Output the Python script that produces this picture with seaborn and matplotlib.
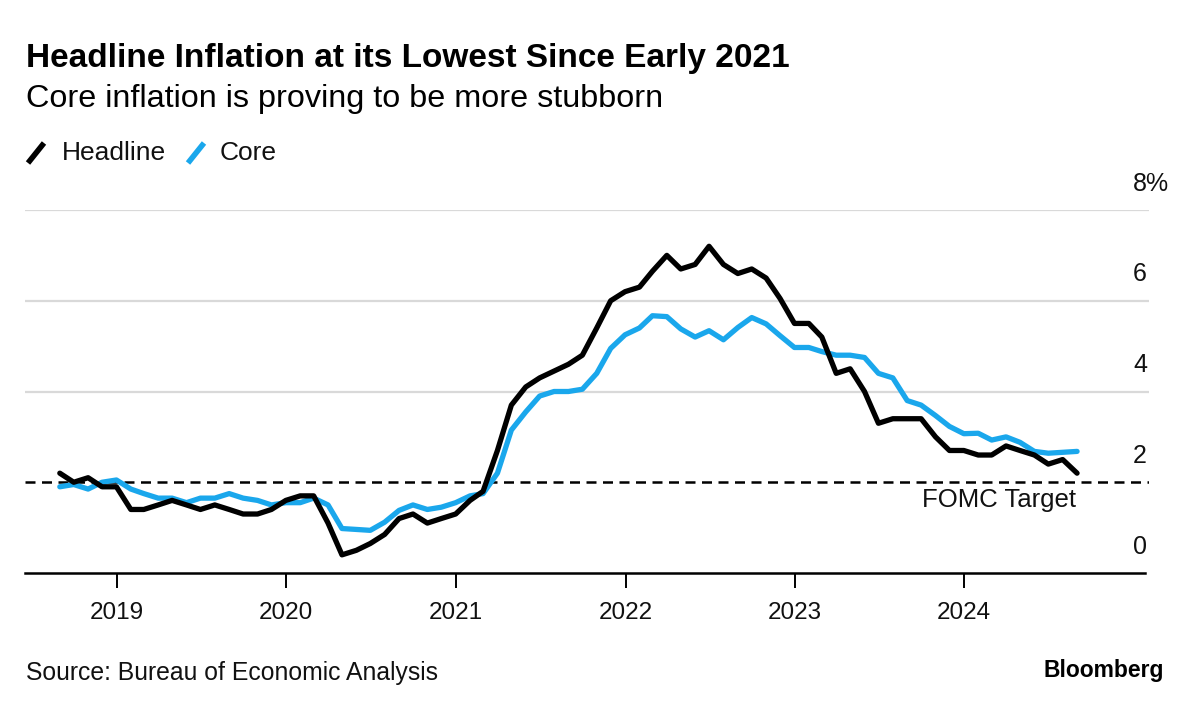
import numpy as np
import pandas as pd
import matplotlib
matplotlib.use("Agg")
import matplotlib.pyplot as plt
import matplotlib.dates as mdates
from matplotlib.lines import Line2D
import seaborn as sns

# ---- data (YoY %, Aug 2018 .. Aug 2024, monthly) ----
headline = [2.2, 2.0, 2.1, 1.9, 1.9,
            1.4, 1.4, 1.5, 1.6, 1.5, 1.4, 1.5, 1.4, 1.3, 1.3, 1.4, 1.6,
            1.7, 1.7, 1.1, 0.4, 0.5, 0.65, 0.85, 1.2, 1.3, 1.1, 1.2, 1.3,
            1.6, 1.8, 2.7, 3.7, 4.1, 4.3, 4.45, 4.6, 4.8, 5.4, 6.0, 6.2,
            6.3, 6.65, 7.0, 6.7, 6.8, 7.2, 6.8, 6.6, 6.7, 6.5, 6.05, 5.5,
            5.5, 5.2, 4.4, 4.5, 4.0, 3.3, 3.4, 3.4, 3.4, 3.0, 2.7, 2.7,
            2.6, 2.6, 2.8, 2.7, 2.6, 2.4, 2.5, 2.2]
core = [1.9, 1.95, 1.85, 2.0, 2.05,
        1.85, 1.75, 1.65, 1.65, 1.55, 1.65, 1.65, 1.75, 1.65, 1.6, 1.5, 1.55,
        1.55, 1.65, 1.5, 0.98, 0.96, 0.94, 1.12, 1.38, 1.5, 1.4, 1.45, 1.55,
        1.7, 1.75, 2.2, 3.15, 3.55, 3.9, 4.0, 4.0, 4.05, 4.4, 4.95, 5.25,
        5.4, 5.67, 5.65, 5.38, 5.2, 5.34, 5.14, 5.41, 5.63, 5.49, 5.23, 4.97,
        4.97, 4.88, 4.8, 4.8, 4.75, 4.4, 4.3, 3.8, 3.7, 3.47, 3.23, 3.07,
        3.08, 2.93, 3.0, 2.88, 2.68, 2.64, 2.66, 2.68]
dates = pd.date_range(start="2018-08-31", periods=len(headline), freq="ME")
series_names = ["Headline", "Core"]
series_colors = ["#000000", "#1AA7EC"]
fomc_target = 2.0
y_ticks = [0, 2, 4, 6, 8]
y_tick_labels = ["0", "2", "4", "6", "8%"]
x_years = [2019, 2020, 2021, 2022, 2023, 2024]

df = pd.DataFrame({
    "date": np.concatenate([dates, dates]),
    "value": headline + core,
    "series": [series_names[0]] * len(headline) + [series_names[1]] * len(core),
})

sns.set_theme(style="white")
plt.rcParams["font.family"] = ["Liberation Sans", "DejaVu Sans"]

W, H = 1200, 712
fig = plt.figure(figsize=(W / 100, H / 100), dpi=100)

def fx(px):
    return px / W

def fy(py):
    return 1 - py / H

ax_left, ax_right, ax_top, ax_bottom = 25, 1149, 210, 573
ax = fig.add_axes([fx(ax_left), fy(ax_bottom), fx(ax_right - ax_left), (ax_bottom - ax_top) / H])

# grid lines
for v in y_ticks[1:]:
    if v == fomc_target:
        continue
    ax.axhline(v, color="#d9d9d9", lw=1.6, zorder=0)

# target line
ax.axhline(fomc_target, color="black", lw=1.8, ls=(0, (4, 2.6)), zorder=1)

sns.lineplot(data=df, x="date", y="value", hue="series",
             palette=dict(zip(series_names, series_colors)),
             hue_order=series_names[::-1], linewidth=3.8, legend=False, ax=ax,
             zorder=3)

x_lo = mdates.date2num(pd.Timestamp("2018-06-17"))
x_hi = mdates.date2num(pd.Timestamp("2025-02-02"))
ax.set_ylim(0, 8)
ax.set_xlim(x_lo, x_hi)
ax.set_xlabel("")
ax.set_ylabel("")
for s in ["left", "right", "top"]:
    ax.spines[s].set_visible(False)
ax.spines["bottom"].set_color("black")
ax.spines["bottom"].set_linewidth(1.8)
ax.spines["bottom"].set_bounds(x_lo, mdates.date2num(pd.Timestamp("2025-01-24")))

ax.set_xticks([mdates.date2num(pd.Timestamp(f"{y}-01-01")) for y in x_years])
ax.xaxis.set_major_formatter(mdates.DateFormatter("%Y"))
ax.tick_params(axis="x", bottom=True, direction="out", length=11, width=1.4, color="black",
               pad=10, labelsize=17.5, labelcolor="#111111")
ax.set_yticks([])

# right-side y labels above gridlines
for v, lab in zip(y_ticks, y_tick_labels):
    ax.text(0.9858, v + 0.58, lab, transform=ax.get_yaxis_transform(),
            ha="left", va="center", fontsize=18, color="#111111")

ax.text(mdates.date2num(pd.Timestamp("2024-08-28")), 1.6, "FOMC Target", ha="right", va="center",
        fontsize=18.5, color="#111111")

# titles
fig.text(fx(26), fy(58), "Headline Inflation at its Lowest Since Early 2021",
         fontsize=24, fontweight="bold", ha="left", va="center", color="black")
fig.text(fx(26), fy(99), "Core inflation is proving to be more stubborn",
         fontsize=23.3, ha="left", va="center", color="black")

# legend
ly = 153
for x0, tx, name, col in [(28, 62, series_names[0], series_colors[0]),
                          (188, 220, series_names[1], series_colors[1])]:
    fig.add_artist(Line2D([fx(x0), fx(x0 + 16)], [fy(ly + 10), fy(ly - 10)],
                          transform=fig.transFigure, color=col, lw=4,
                          solid_capstyle="butt"))
    fig.text(fx(tx), fy(ly), name, fontsize=19, ha="left", va="center", color="#111111")

# footer
fig.text(fx(26), fy(673), "Source: Bureau of Economic Analysis", fontsize=17.8,
         ha="left", va="center", color="#111111")
fig.text(fx(1164), fy(670), "Bloomberg", fontsize=16.5, fontweight="bold",
         ha="right", va="center", color="black")

fig.savefig("out.png", dpi=100, facecolor="white")
